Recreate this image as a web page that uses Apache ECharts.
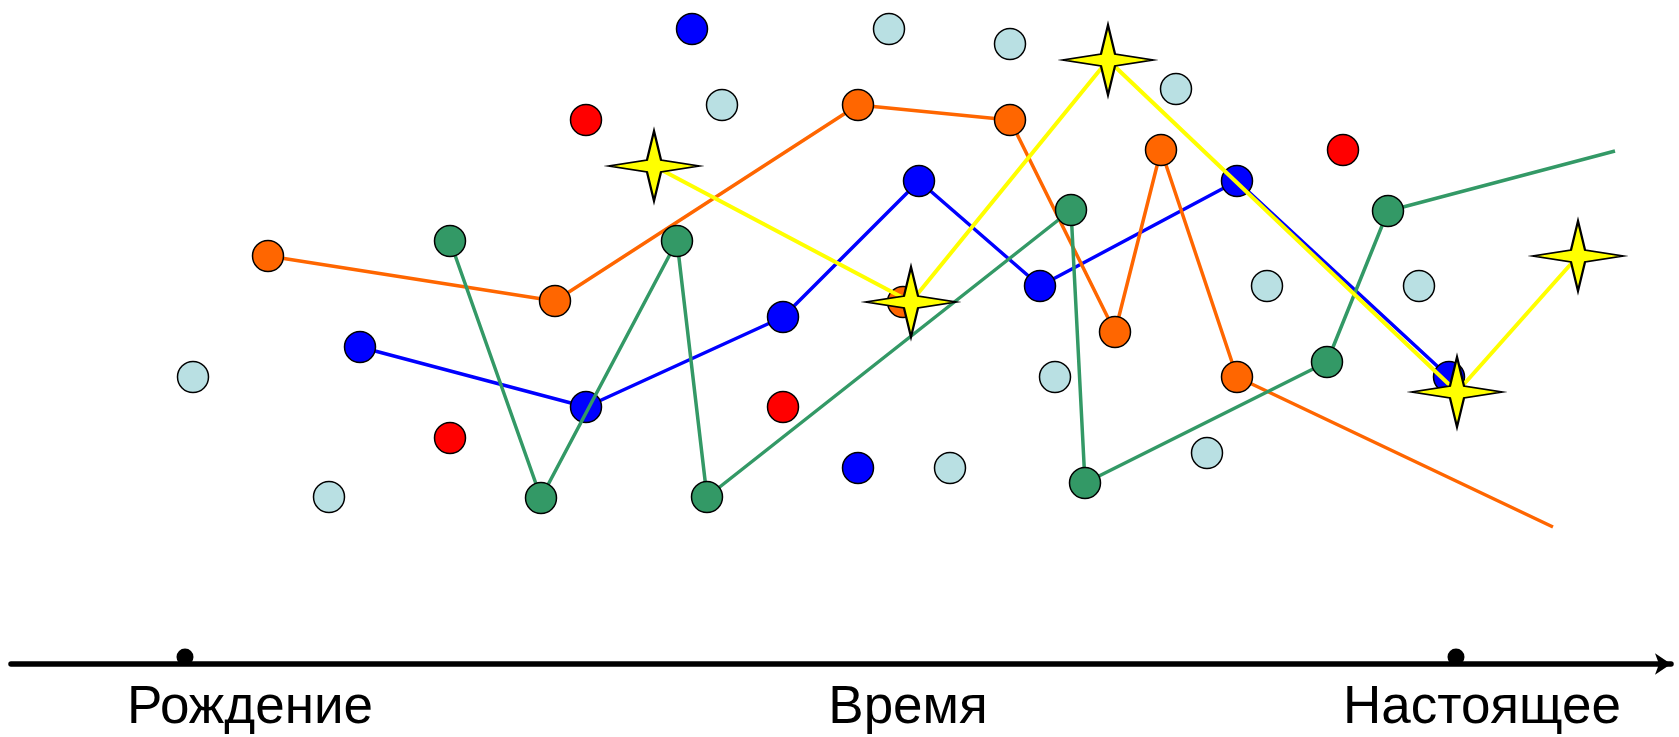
<!DOCTYPE html>
<html>
<head>
<meta charset="utf-8">
<script src="https://cdn.jsdelivr.net/npm/echarts@6/dist/echarts.min.js"></script>
<style>
html,body{margin:0;padding:0;background:#fff;}
#chart{width:1679px;height:737px;}
</style>
</head>
<body>
<div id="chart"></div>
<script>
// Values (x = time position, y = height from top of plot)
const axisLabelPositions = [250, 908, 1482];
const axisLabelTexts = ['Рождение', 'Время', 'Настоящее'];
const axisMarks = [[185, 664], [1456, 664]];

const lightBluePoints = [[193,377],[329,497],[722,105],[889,29],[1010,44],[1176,89],[1055,377],[950,468],[1267,286],[1419,286],[1207,453]];
const redPoints = [[586,120],[450,438],[783,407],[1343,150]];
const blueLoose = [[692,29],[858,468]];
const orangeLoose = [[903,302]];

const blueLine = [[360,347],[586,407],[783,317],[919,181],[1040,286],[1237,181],[1449,377]];
const orangeLine = [[268,256],[555,301],[858,105],[1010,120],[1115,332],[1161,150],[1237,377],[1553,527]];
const greenLine = [[450,241],[541,498],[677,241],[707,497],[1071,210],[1085,483],[1327,362],[1388,211],[1615,151]];
const yellowStars = [[654,166],[911,302],[1108,60],[1457,392],[1578,256]];

const STAR = 'path://M0,-35 L7,-6 L45,0 L7,6 L0,35 L-7,6 L-45,0 L-7,-6 Z';

function openEnd(arr){
  return arr.map((p,i)=> i===arr.length-1 ? {value:p, symbol:'none'} : p);
}
const dotStyle = c => ({color:c, borderColor:'#000', borderWidth:1.5, opacity:1});

const chart = echarts.init(document.getElementById('chart'));
chart.setOption({
  animation:false,
  backgroundColor:'#fff',
  grid:{left:11, right:8, top:0, bottom:73},
  xAxis:{
    type:'value', min:11, max:1671, position:'bottom',
    axisLine:{show:true, onZero:false, lineStyle:{color:'#000', width:5.5}, symbol:['none','arrow'], symbolSize:[16,16]},
    axisTick:{show:false},
    splitLine:{show:false},
    axisLabel:{
      customValues: axisLabelPositions,
      formatter: v => { const i = axisLabelPositions.indexOf(v); return i>=0 ? axisLabelTexts[i] : ''; },
      color:'#000', fontSize:53, fontFamily:'Liberation Sans, Arial, sans-serif', margin:18
    }
  },
  yAxis:{type:'value', min:0, max:664, inverse:true, show:false},
  series:[
    {type:'scatter', data:axisMarks, symbol:'circle', symbolSize:17, symbolOffset:[0,-7], itemStyle:{color:'#000', opacity:1}, clip:false, z:1},
    {type:'scatter', data:lightBluePoints, symbolSize:31, itemStyle:dotStyle('#B9E0E3'), clip:false},
    {type:'scatter', data:redPoints, symbolSize:31, itemStyle:dotStyle('#FF0000'), clip:false},
    {type:'scatter', data:blueLoose, symbolSize:31, itemStyle:dotStyle('#0000FF'), clip:false},
    {type:'scatter', data:orangeLoose, symbolSize:31, itemStyle:dotStyle('#FF6600'), clip:false},
    {type:'line', data:blueLine, symbol:'circle', symbolSize:31, showAllSymbol:true, lineStyle:{color:'#0000FF', width:3.5}, itemStyle:dotStyle('#0000FF'), clip:false, z:3},
    {type:'line', data:openEnd(orangeLine), symbol:'circle', symbolSize:31, showAllSymbol:true, lineStyle:{color:'#FF6600', width:3.5}, itemStyle:dotStyle('#FF6600'), clip:false, z:4},
    {type:'line', data:openEnd(greenLine), symbol:'circle', symbolSize:31, showAllSymbol:true, lineStyle:{color:'#339966', width:3.5}, itemStyle:dotStyle('#339966'), clip:false, z:5},
    {type:'line', data:yellowStars, symbol:STAR, symbolSize:[90,70], showAllSymbol:true, lineStyle:{color:'#FFFF00', width:4}, itemStyle:{color:'#FFFF00', borderColor:'#000', borderWidth:2, opacity:1}, clip:false, z:6}
  ]
});
</script>
</body>
</html>
